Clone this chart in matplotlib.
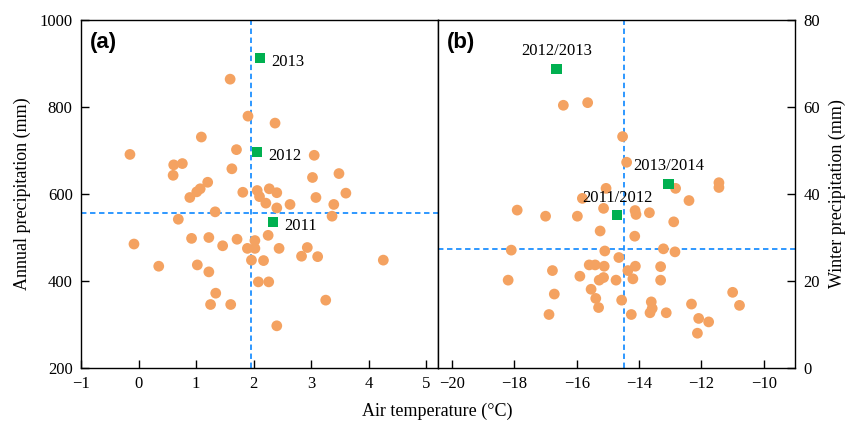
import matplotlib
matplotlib.use("Agg")
from matplotlib import pyplot as plt

# panel (a): annual air temperature vs annual precipitation
temp_a = [-0.15, 1.59, 1.90, 2.37, 1.09, 1.70, 0.61, 0.76, 0.60, 1.62, 3.05, 3.02,
          3.48, 1.20, 1.07, 1.01, 1.81, 2.06, 2.27, 2.40, 3.60, 3.08, 0.89, 2.10,
          2.21, 2.40, 2.63, 3.39, 3.36, 1.33, 0.69, -0.08, 0.92, 1.22, 1.46, 1.71,
          2.02, 1.89, 2.02, 2.25, 2.44, 2.93, 2.83, 3.11, 1.96, 2.17, 4.25, 0.35,
          1.02, 1.22, 2.08, 2.26, 1.34, 1.25, 1.60, 3.25, 2.40]
prec_a = [691, 864, 779, 763, 731, 702, 667, 670, 643, 658, 689, 638,
          647, 627, 612, 605, 604, 608, 612, 603, 602, 592, 592, 594,
          579, 568, 576, 576, 549, 559, 542, 485, 498, 500, 481, 496,
          493, 475, 475, 505, 475, 477, 457, 456, 448, 447, 448, 434,
          437, 421, 398, 398, 372, 346, 346, 356, 297]
years_a = ["2011", "2012", "2013"]
year_temp_a = [2.34, 2.06, 2.11]
year_prec_a = [536, 697, 912]
mean_temp_a = 1.96
mean_prec_a = 557

# panel (b): winter air temperature vs winter precipitation
temp_b = [-16.43, -15.65, -14.53, -14.40, -12.83, -11.44, -11.44, -15.06, -15.82, -12.40,
          -17.91, -17.00, -15.98, -15.14, -14.13, -14.10, -13.67, -12.89, -15.25, -14.14,
          -18.10, -15.10, -13.22, -12.85, -14.65, -15.60, -15.41, -15.12, -14.12, -13.31,
          -16.78, -14.36, -15.90, -15.14, -15.28, -14.74, -14.20, -13.31, -18.20, -15.54,
          -16.72, -11.00, -15.39, -14.56, -13.61, -13.58, -13.65, -15.30, -12.32, -10.78,
          -16.89, -14.25, -13.13, -12.09, -11.77, -12.13]
prec_b = [60.4, 61.0, 53.2, 47.3, 41.3, 42.6, 41.5, 41.3, 39.0, 38.5,
          36.3, 34.9, 34.9, 36.7, 36.2, 35.3, 35.7, 33.6, 31.5, 30.3,
          27.1, 26.9, 27.4, 26.7, 25.4, 23.7, 23.7, 23.4, 23.4, 23.3,
          22.4, 22.4, 21.1, 20.8, 20.2, 20.2, 20.5, 20.2, 20.2, 18.1,
          17.0, 17.4, 16.0, 15.6, 15.2, 13.7, 12.7, 13.9, 14.7, 14.4,
          12.3, 12.3, 12.7, 11.4, 10.6, 8.0]
years_b = ["2011/2012", "2012/2013", "2013/2014"]
year_temp_b = [-14.70, -16.65, -13.06]
year_prec_b = [35.1, 68.7, 42.3]
mean_temp_b = -14.48
mean_prec_b = 27.4

orange = "#F4A261"
green = "#00B050"
blue = "#1E90FF"

plt.rcParams["font.family"] = ["Liberation Serif", "DejaVu Serif"]
plt.rcParams["font.size"] = 12

fig = plt.figure(figsize=(8.5, 4.23), dpi=100)
ax1 = fig.add_axes([0.0953, 0.130, 0.42, 0.8227])
ax2 = fig.add_axes([0.5153, 0.130, 0.42, 0.8227])

# (a)
ax1.scatter(temp_a, prec_a, s=60, color=orange, edgecolors="none", zorder=3)
ax1.scatter(year_temp_a, year_prec_a, s=55, marker="s", color=green, edgecolors="none", zorder=4)
for t, p, lab in zip(year_temp_a, year_prec_a, years_a):
    ax1.annotate(lab, (t, p), xytext=(8, -3), textcoords="offset points",
                 va="center", ha="left", fontsize=12)
ax1.axvline(mean_temp_a, color=blue, ls=(0, (3, 2)), lw=1.3, zorder=2)
ax1.axhline(mean_prec_a, color=blue, ls=(0, (3, 2)), lw=1.3, zorder=2)
ax1.set_xlim(-1, 5.2)
ax1.set_ylim(200, 1000)
ax1.set_xticks([-1, 0, 1, 2, 3, 4, 5])
ax1.set_yticks([200, 400, 600, 800, 1000])
ax1.set_ylabel("Annual precipitation (mm)", fontsize=13, labelpad=6)
ax1.tick_params(direction="in", length=6, width=1, labelsize=12, pad=6,
                top=False, right=False)
ax1.text(0.025, 0.965, "(a)", transform=ax1.transAxes, fontsize=16,
         fontweight="bold", family="Liberation Sans", va="top", ha="left")

# (b)
ax2.scatter(temp_b, prec_b, s=60, color=orange, edgecolors="none", zorder=3)
ax2.scatter(year_temp_b, year_prec_b, s=55, marker="s", color=green, edgecolors="none", zorder=4)
for t, p, lab in zip(year_temp_b, year_prec_b, years_b):
    ax2.annotate(lab, (t, p), xytext=(0, 7), textcoords="offset points",
                 va="bottom", ha="center", fontsize=12)
ax2.axvline(mean_temp_b, color=blue, ls=(0, (3, 2)), lw=1.3, zorder=2)
ax2.axhline(mean_prec_b, color=blue, ls=(0, (3, 2)), lw=1.3, zorder=2)
ax2.set_xlim(-20.45, -9)
ax2.set_ylim(0, 80)
ax2.set_xticks([-20, -18, -16, -14, -12, -10])
ax2.set_yticks([0, 20, 40, 60, 80])
ax2.yaxis.tick_right()
ax2.yaxis.set_label_position("right")
ax2.set_ylabel("Winter precipitation (mm)", fontsize=13, labelpad=6)
ax2.tick_params(direction="in", length=6, width=1, labelsize=12, pad=6,
                top=False, left=False)
ax2.text(0.025, 0.965, "(b)", transform=ax2.transAxes, fontsize=16,
         fontweight="bold", family="Liberation Sans", va="top", ha="left")

for ax in (ax1, ax2):
    for sp in ax.spines.values():
        sp.set_linewidth(1.0)

fig.text(0.515, 0.008, "Air temperature (\u00b0C)", ha="center", va="bottom", fontsize=13)

fig.savefig("out.png", dpi=100)
